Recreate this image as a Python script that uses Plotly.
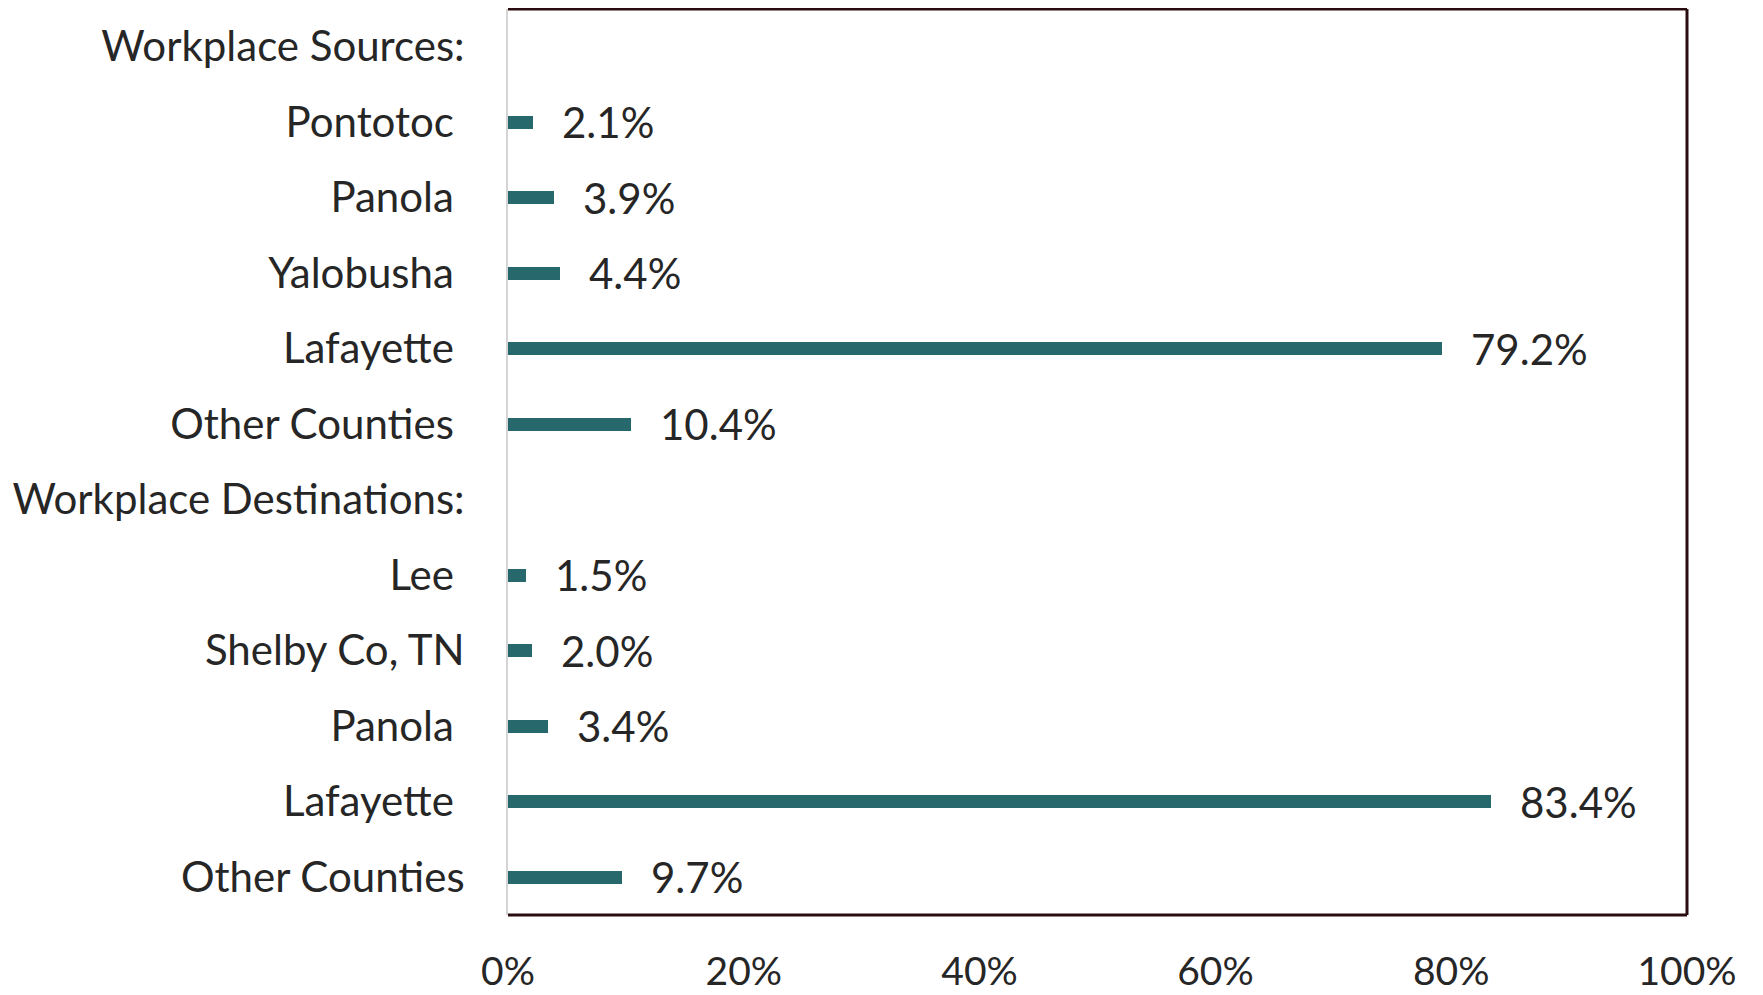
import plotly.graph_objects as go

NB = "\u00a0"
categories = [
    "Workplace Sources:",
    "Pontotoc" + NB,
    "Panola" + NB,
    "Yalobusha" + NB,
    "Lafayette" + NB,
    "Other Counties" + NB,
    "Workplace Destinations:",
    "Lee" + NB,
    "Shelby Co, TN",
    "Panola" + NB,
    "Lafayette" + NB,
    "Other Counties",
]
values = [None, 2.1, 3.9, 4.4, 79.2, 10.4, None, 1.5, 2.0, 3.4, 83.4, 9.7]
x_ticks = [0, 20, 40, 60, 80, 100]
x_tick_labels = ["0%", "20%", "40%", "60%", "80%", "100%"]

positions = list(range(len(categories)))

FONT = "Lato"
FS = 42
TXT = "#262626"
BAR = "#26686c"
BORDER = "#2a0c10"

fig = go.Figure()
fig.add_trace(go.Bar(
    x=[v if v is not None else 0 for v in values],
    y=positions,
    orientation="h",
    marker=dict(color=BAR, line=dict(width=0)),
    width=0.172,
    hoverinfo="skip",
))

for p, v in zip(positions, values):
    if v is None:
        continue
    fig.add_annotation(
        x=v, y=p, text=f"{v:.1f}%", showarrow=False,
        xanchor="left", yanchor="middle", xshift=27,
        font=dict(family=FONT, size=FS, color=TXT),
    )

# frame: top, right, bottom in dark; left axis line light gray
for (x0, y0, x1, y1) in [(0, 1, 1, 1), (1, 0, 1, 1), (0, 0, 1, 0)]:
    fig.add_shape(type="line", xref="paper", yref="paper",
                  x0=x0, y0=y0, x1=x1, y1=y1,
                  line=dict(color=BORDER, width=3))

# page body has an 8px default margin, so the figure is sized to fit the window
fig.update_layout(
    width=1755, height=987,
    margin=dict(l=500, r=76, t=1, b=80, autoexpand=False),
    paper_bgcolor="white", plot_bgcolor="white",
    showlegend=False,
    font=dict(family=FONT, size=FS, color=TXT),
    bargap=0,
)
fig.update_xaxes(
    range=[0, 100], tickvals=x_ticks, ticktext=x_tick_labels,
    showgrid=False, zeroline=False, showline=False,
    ticks="", ticklabelstandoff=30, automargin=False,
    tickfont=dict(family=FONT, size=39, color=TXT),
    fixedrange=True,
)
fig.update_yaxes(
    range=[len(categories) - 0.5, -0.5],
    tickvals=positions, ticktext=categories,
    showgrid=False, zeroline=False,
    showline=True, linecolor="#d4d4d4", linewidth=2,
    ticks="", ticklabelstandoff=33, automargin=False,
    tickfont=dict(family=FONT, size=FS, color=TXT),
    fixedrange=True,
)

fig.write_html("out.html")
